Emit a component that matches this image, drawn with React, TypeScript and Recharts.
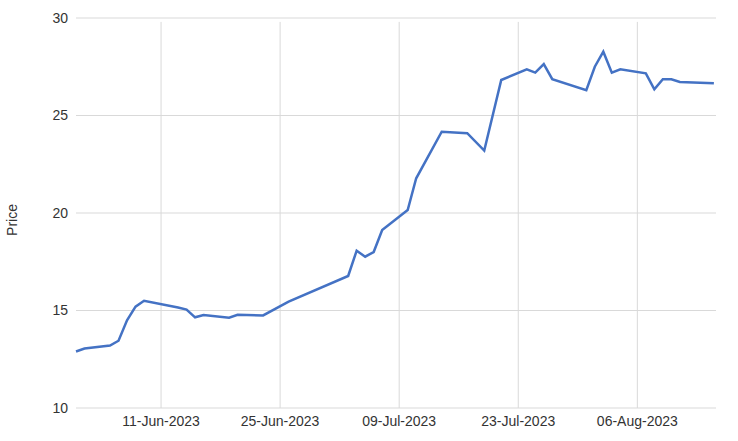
import React from 'react';
import { LineChart, Line, XAxis, YAxis, CartesianGrid, ReferenceLine } from 'recharts';

const dates: string[] = [
  '2023-06-01', '2023-06-02', '2023-06-05', '2023-06-06', '2023-06-07', '2023-06-08', '2023-06-09',
  '2023-06-13', '2023-06-14', '2023-06-15', '2023-06-16', '2023-06-19', '2023-06-20', '2023-06-23',
  '2023-06-26', '2023-07-03', '2023-07-04', '2023-07-05', '2023-07-06', '2023-07-07', '2023-07-10',
  '2023-07-11', '2023-07-14', '2023-07-17', '2023-07-19', '2023-07-21', '2023-07-24', '2023-07-25',
  '2023-07-26', '2023-07-27', '2023-07-31', '2023-08-01', '2023-08-02', '2023-08-03', '2023-08-04',
  '2023-08-07', '2023-08-08', '2023-08-09', '2023-08-10', '2023-08-11', '2023-08-15',
];

const prices: number[] = [
  12.9, 13.05, 13.2, 13.45, 14.5, 15.2, 15.5,
  15.15, 15.05, 14.65, 14.77, 14.63, 14.78, 14.75,
  15.45, 16.77, 18.07, 17.76, 18.0, 19.13, 20.15,
  21.78, 24.17, 24.09, 23.2, 26.82, 27.37, 27.2,
  27.64, 26.86, 26.3, 27.5, 28.27, 27.2, 27.37,
  27.16, 26.34, 26.86, 26.86, 26.72, 26.65,
];

const xTickDates: string[] = ['2023-06-11', '2023-06-25', '2023-07-09', '2023-07-23', '2023-08-06'];
const yTicks: number[] = [10, 15, 20, 25, 30];
const xDomainDates: string[] = ['2023-06-01', '2023-08-15T06:00:00Z'];
const vGridTop = 29.8;
const months: string[] = ['Jan', 'Feb', 'Mar', 'Apr', 'May', 'Jun', 'Jul', 'Aug', 'Sep', 'Oct', 'Nov', 'Dec'];

const toTs = (s: string) => new Date(s.length === 10 ? s + 'T00:00:00Z' : s).getTime();

const data = dates.map((d, i) => ({ t: toTs(d), price: prices[i] }));

const fmt = (ts: number) => {
  const d = new Date(ts);
  const dd = String(d.getUTCDate()).padStart(2, '0');
  return `${dd}-${months[d.getUTCMonth()]}-${d.getUTCFullYear()}`;
};

const FONT = '"Liberation Sans", Arial, sans-serif';

const PriceLabel = (props: any) => {
  const vb = props.viewBox || {};
  const cx = vb.x + 12;
  const cy = vb.y + vb.height / 2 + 7;
  return (
    <text
      x={cx}
      y={cy}
      transform={`rotate(-90, ${cx}, ${cy})`}
      textAnchor="middle"
      dominantBaseline="central"
      fontFamily={FONT}
      fontSize={14}
      fill="#333"
    >
      Price
    </text>
  );
};

export default function App() {
  return (
    <div style={{ position: 'absolute', left: 0, top: 0, background: '#fff' }}>
      <LineChart
        width={738}
        height={441}
        data={data}
        margin={{ top: 18, right: 22, bottom: 0, left: 0 }}
      >
        <CartesianGrid stroke="#d9d9d9" strokeWidth={1} vertical={false} />
        {xTickDates.map((d) => (
          <ReferenceLine
            key={d}
            segment={[{ x: toTs(d), y: vGridTop }, { x: toTs(d), y: 10 }]}
            stroke="#d9d9d9"
            strokeWidth={1}
          />
        ))}
        <XAxis
          dataKey="t"
          type="number"
          scale="time"
          domain={xDomainDates.map(toTs)}
          ticks={xTickDates.map(toTs)}
          tickFormatter={fmt}
          axisLine={false}
          tickLine={false}
          height={33}
          tick={{ fontSize: 14, fill: '#333', fontFamily: FONT }}
          interval={0}
        />
        <YAxis
          domain={[10, 30]}
          ticks={yTicks}
          axisLine={false}
          tickLine={false}
          width={76}
          tick={{ fontSize: 14, fill: '#333', fontFamily: FONT }}
          label={<PriceLabel />}
        />
        <Line
          type="linear"
          dataKey="price"
          stroke="#4472C4"
          strokeWidth={2.5}
          dot={false}
          isAnimationActive={false}
        />
      </LineChart>
    </div>
  );
}
